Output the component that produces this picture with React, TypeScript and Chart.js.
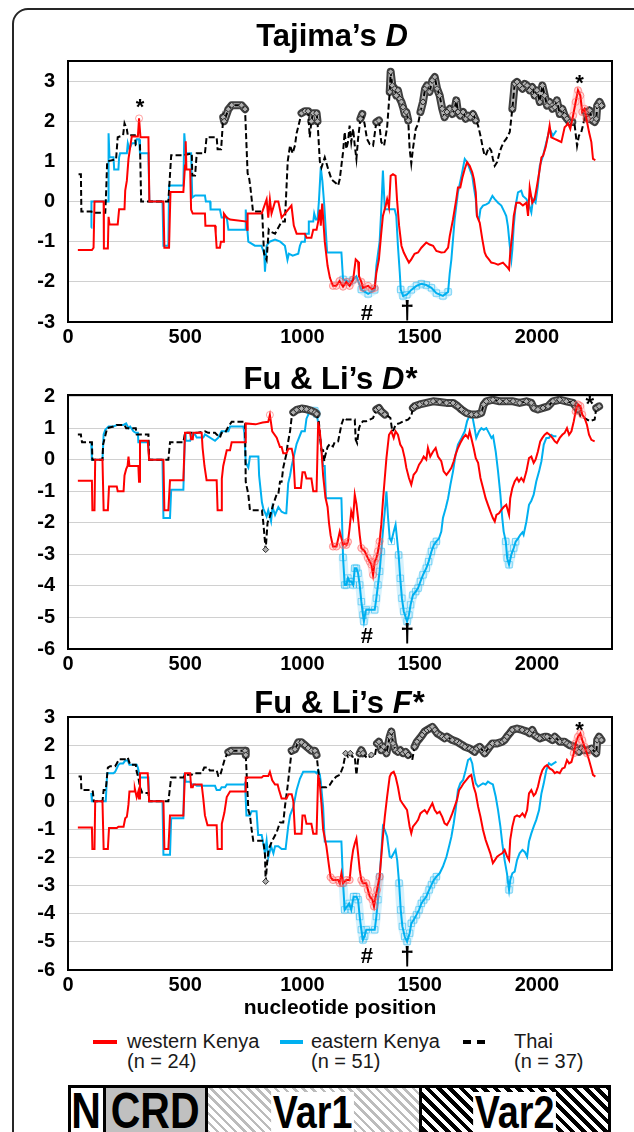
import React, { useEffect, useRef } from "react";
import { Chart, registerables } from "chart.js";

Chart.register(...registerables);

const FONT = "'Liberation Sans', Arial, Helvetica, sans-serif";

// ---------------- data ----------------
const positionTicks = [0, 500, 1000, 1500, 2000];
const tajimaTicks = [-3, -2, -1, 0, 1, 2, 3];
const fuLiDTicks = [-6, -5, -4, -3, -2, -1, 0, 1, 2];
const fuLiFTicks = [-6, -5, -4, -3, -2, -1, 0, 1, 2, 3];

const legendLabels = ["western Kenya", "eastern Kenya", "Thai"];
const sampleSizes = [24, 51, 37];
const domains = ["N", "CRD", "Var1", "Var2"];

// significance cut-offs [low, high]
const tajimaSig = [-1.9, 1.95];
const fuLiDSig = [-2.5, 1.4];
const fuLiFSig = [-2.6, 1.6];

// ----- Tajima's D -----
const tajimaWestern = [
  [42,-1.21],[102,-1.21],[109,-1.15],[113,0],[152,0],[153,-1.17],[170,-1.17],[173,-0.38],[177,-0.57],[212,-0.57],[218,-0.19],[241,-0.19],[244,0.27],[251,0.52],[258,1.06],[267,1.43],[272,1.62],[298,1.62],[303,2.07],[309,1.6],[343,1.6],[347,0],[407,0],[411,-1.15],[431,-1.15],[437,0.24],[492,0.24],[499,0.9],[502,1.5],[505,0.8],[521,0.8],[525,-0.2],[532,-0.3],[584,-0.3],[586,-0.6],[627,-0.6],[630,-0.8],[634,-1.15],[648,-1.15],[652,-1.0],[662,-1.0],[665,-0.3],[677,-0.4],[691,-0.45],[762,-0.5],[764,-0.7],[766,-0.3],[826,-0.3],[847,0.05],[854,-0.4],[861,0.05],[868,-0.3],[883,0],[897,0],[911,-0.4],[925,-0.3],[953,-0.1],[963,-0.6],[975,-0.8],[1010,-0.8],[1017,-0.9],[1038,-0.9],[1046,-0.7],[1060,-0.7],[1067,-0.5],[1074,-0.2],[1078,-0.6],[1084,-0.05],[1095,-1.0],[1107,-1.6],[1117,-1.9],[1130,-2.1],[1144,-2.1],[1158,-1.98],[1173,-2.12],[1187,-2.0],[1201,-2.1],[1216,-1.95],[1227,-1.44],[1237,-1.5],[1241,-1.86],[1251,-2.0],[1258,-2.15],[1280,-2.1],[1295,-2.18],[1308,-2.15],[1315,-1.78],[1326,-1.44],[1336,-0.78],[1343,-0.36],[1355,-0.1],[1361,0.06],[1369,-0.15],[1376,0.64],[1386,0.68],[1397,0.64],[1403,0.06],[1412,-0.6],[1422,-1.1],[1432,-1.27],[1443,-1.4],[1454,-1.52],[1464,-1.44],[1478,-1.3],[1493,-1.27],[1507,-1.15],[1528,-1.02],[1542,-1.07],[1557,-1.1],[1571,-1.23],[1592,-1.27],[1606,-1.26],[1621,-1.15],[1628,-0.86],[1642,-0.44],[1656,0.06],[1663,0.35],[1673,0.35],[1682,0.6],[1692,0.81],[1702,0.98],[1713,0.89],[1724,0.73],[1731,0.56],[1739,0.23],[1744,-0.36],[1756,-0.53],[1767,-0.94],[1777,-1.27],[1784,-1.36],[1795,-1.44],[1805,-1.52],[1820,-1.54],[1834,-1.57],[1855,-1.52],[1876,-1.65],[1881,-1.69],[1886,-1.27],[1895,-0.78],[1901,-0.36],[1912,-0.03],[1926,-0.03],[1940,-0.1],[1955,-0.03],[1962,-0.36],[1969,0.35],[1980,-0.03],[1990,0.06],[2000,0.39],[2012,0.81],[2019,1.1],[2026,1.14],[2037,1.35],[2047,1.64],[2054,1.89],[2061,1.6],[2075,1.56],[2090,1.52],[2104,1.48],[2118,1.85],[2125,1.89],[2132,1.95],[2142,1.81],[2154,2.14],[2165,2.48],[2175,2.77],[2185,2.64],[2193,2.23],[2203,2.31],[2211,2.06],[2222,1.73],[2232,1.48],[2239,1.06],[2249,1.03]
];
const tajimaEastern = [
  [99,-0.65],[100,0],[172,0],[173,1.7],[177,1.1],[194,1.1],[197,0.8],[215,0.8],[218,1.1],[222,1.2],[251,1.2],[255,1.45],[262,1.3],[272,1.45],[289,1.45],[293,1.55],[303,1.55],[307,1.2],[343,1.2],[347,0],[403,0],[407,-1.1],[428,-1.1],[431,0.4],[492,0.4],[496,1.7],[502,1.2],[525,1.2],[530,0.1],[542,0.15],[584,0.15],[588,0],[606,0],[608,-0.2],[648,-0.2],[655,-0.4],[677,-0.4],[684,-0.7],[755,-0.7],[757,-0.55],[759,-0.2],[769,-1.0],[797,-1.1],[825,-1.1],[837,-1.3],[840,-1.75],[847,-1.1],[860,-1.0],[883,-0.95],[905,-1.0],[925,-1.1],[936,-1.45],[942,-1.3],[958,-1.35],[982,-1.3],[989,-1.1],[996,-1.0],[1010,-1.0],[1013,-0.8],[1024,-0.8],[1027,-0.5],[1046,-0.5],[1050,-0.3],[1057,-0.45],[1064,-0.45],[1070,0.0],[1078,0.85],[1085,0.5],[1093,-0.1],[1105,-1.27],[1166,-1.27],[1173,-1.94],[1200,-2.0],[1215,-1.95],[1230,-1.86],[1251,-2.19],[1280,-2.3],[1308,-2.2],[1315,-1.6],[1329,-1.0],[1336,-0.2],[1343,0.77],[1351,-0.19],[1393,-0.19],[1400,-0.36],[1407,-1.1],[1415,-1.78],[1419,-2.19],[1429,-2.35],[1445,-2.32],[1464,-2.2],[1486,-2.1],[1507,-2.05],[1528,-2.08],[1550,-2.15],[1571,-2.28],[1599,-2.35],[1621,-2.25],[1628,-1.78],[1635,-1.44],[1649,-0.44],[1663,0.23],[1678,0.64],[1692,1.06],[1702,0.98],[1713,0.81],[1724,0.64],[1730,0.39],[1739,0.06],[1744,-0.36],[1753,-0.44],[1759,-0.19],[1770,-0.1],[1784,-0.07],[1795,-0.03],[1810,0.14],[1820,0.06],[1834,-0.03],[1848,-0.1],[1862,-0.27],[1869,-0.36],[1876,-0.61],[1884,-1.1],[1891,-1.44],[1895,-1.19],[1901,-0.61],[1909,-0.1],[1919,0.23],[1933,0.27],[1940,0.14],[1955,0.06],[1966,-0.07],[1976,-0.27],[1983,0.06],[1994,-0.03],[2004,0.39],[2012,0.89],[2026,1.14],[2040,1.48],[2054,1.81],[2068,1.64],[2083,1.77]
];
const tajimaThai = [
  [45,0.68],[55,0.68],[57,-0.25],[100,-0.25],[102,-0.28],[159,-0.28],[163,0.3],[167,1.0],[205,1.05],[212,1.6],[235,1.65],[241,1.95],[251,1.8],[255,1.65],[285,1.65],[289,1.4],[307,1.4],[312,0],[428,0],[440,1.15],[492,1.15],[528,1.2],[530,0.65],[542,0.65],[549,1.2],[584,1.2],[591,1.6],[634,1.6],[638,1.3],[653,1.3],[662,2.1],[666,2.0],[684,2.3],[698,2.4],[740,2.4],[755,2.3],[766,0.7],[772,0.6],[777,0.4],[789,-0.25],[828,-0.25],[836,-1.3],[847,-1.45],[856,-0.7],[863,-0.75],[883,-0.8],[911,-0.5],[925,-0.5],[937,1.0],[947,1.4],[958,1.2],[968,1.4],[975,1.7],[996,2.2],[1010,2.25],[1024,2.25],[1031,1.6],[1038,2.0],[1045,2.2],[1060,2.2],[1064,2.0],[1074,1.0],[1081,0.85],[1095,1.1],[1110,0.8],[1124,0.55],[1144,0.45],[1152,0.4],[1159,0.56],[1173,1.23],[1180,1.73],[1187,1.31],[1194,1.48],[1201,1.89],[1208,1.48],[1216,1.81],[1223,1.39],[1230,1.06],[1237,1.56],[1247,2.06],[1255,2.18],[1265,1.93],[1275,1.56],[1287,1.43],[1301,1.39],[1315,1.98],[1326,2.02],[1336,1.48],[1348,1.39],[1361,1.85],[1372,2.73],[1376,3.23],[1383,2.89],[1393,2.81],[1400,2.64],[1407,2.77],[1415,2.56],[1422,2.48],[1429,2.35],[1436,2.18],[1443,2.23],[1451,2.02],[1457,1.31],[1464,0.95],[1471,1.31],[1483,1.81],[1493,1.93],[1503,2.23],[1514,2.48],[1523,2.81],[1531,2.89],[1542,2.73],[1554,3.02],[1564,3.1],[1574,2.81],[1585,2.64],[1596,2.31],[1606,2.1],[1616,2.23],[1628,2.31],[1639,2.18],[1649,2.31],[1656,2.52],[1663,2.23],[1673,2.14],[1685,2.23],[1696,2.06],[1706,2.14],[1716,2.1],[1727,2.18],[1739,2.02],[1749,1.89],[1759,1.64],[1770,1.31],[1777,1.14],[1784,1.18],[1795,1.35],[1805,1.27],[1812,1.06],[1820,0.89],[1830,0.98],[1841,1.23],[1848,1.35],[1858,1.48],[1869,1.56],[1884,1.73],[1895,2.31],[1905,2.93],[1915,2.98],[1926,2.89],[1938,2.81],[1948,2.93],[1958,2.89],[1969,2.77],[1980,2.85],[1990,2.64],[2000,2.77],[2012,2.48],[2023,2.89],[2033,2.64],[2043,2.39],[2054,2.48],[2066,2.31],[2076,2.35],[2085,2.52],[2097,2.18],[2108,2.31],[2118,2.14],[2128,2.06],[2139,1.98],[2151,1.98],[2161,1.89],[2171,1.39],[2179,1.64],[2189,1.73],[2196,1.89],[2208,2.23],[2218,2.06],[2225,2.27],[2236,2.02],[2246,1.98],[2253,2.06],[2257,2.39],[2267,2.48],[2275,2.39]
];

// ----- Fu & Li's D* -----
const fuLiDWestern = [
  [42,-0.67],[102,-0.67],[104,-1.6],[113,-1.6],[116,0],[147,0],[152,-1.6],[170,-1.6],[175,-0.85],[208,-0.85],[212,-1.0],[237,-1.0],[241,-0.5],[248,-0.3],[254,-0.2],[258,0.1],[262,-0.2],[300,-0.2],[303,-0.7],[307,0.6],[340,0.6],[346,0],[407,0],[411,-1.6],[428,-1.6],[435,-0.65],[492,-0.65],[499,0.85],[521,0.85],[525,0.65],[532,0.65],[535,0.85],[570,0.85],[574,0.37],[582,-0.2],[591,-0.65],[634,-0.65],[638,-1.6],[653,-1.6],[656,-0.6],[662,-0.2],[677,0.3],[691,0.3],[698,0.55],[755,0.55],[758,1.15],[800,1.12],[830,1.18],[854,1.2],[861,1.42],[871,0.9],[890,0.7],[904,0.4],[911,0.4],[918,0.2],[932,0.2],[940,0.35],[954,0.35],[961,0.1],[968,-0.9],[993,-0.9],[1000,-0.4],[1010,-0.4],[1017,-0.6],[1038,-0.6],[1046,-1.0],[1060,-1.0],[1067,1.2],[1074,0.9],[1081,0.3],[1088,-0.5],[1098,-1.2],[1107,-1.5],[1113,-2.0],[1120,-2.4],[1130,-2.75],[1145,-2.75],[1159,-2.28],[1173,-2.7],[1180,-2.65],[1187,-2.7],[1194,-2.6],[1201,-2.17],[1208,-1.64],[1216,-1.85],[1223,-1.11],[1230,-1.4],[1237,-1.85],[1244,-2.38],[1251,-2.8],[1265,-2.9],[1279,-3.12],[1287,-3.23],[1294,-3.33],[1301,-3.65],[1308,-3.23],[1315,-3.12],[1322,-2.9],[1329,-2.59],[1336,-2.06],[1343,-1.32],[1351,-0.58],[1358,0.05],[1369,0.79],[1379,0.9],[1389,0.69],[1397,0.9],[1407,0.79],[1417,0.48],[1426,0.37],[1436,0.05],[1443,-0.26],[1454,-0.58],[1464,-0.79],[1474,-0.48],[1486,-0.37],[1497,-0.16],[1507,-0.05],[1517,0.1],[1528,0],[1535,0.37],[1545,0.1],[1557,0.26],[1568,0.37],[1578,0.1],[1592,-0.05],[1602,-0.37],[1614,-0.48],[1625,-0.37],[1635,-0.26],[1645,-0.05],[1653,0.16],[1663,0.37],[1673,0.53],[1685,0.69],[1696,0.79],[1706,0.69],[1713,0.9],[1720,0.69],[1730,0.37],[1739,0.05],[1749,-0.1],[1759,-0.58],[1770,-0.9],[1781,-1.22],[1791,-1.43],[1801,-1.64],[1812,-1.85],[1820,-1.96],[1827,-1.75],[1838,-1.7],[1848,-1.59],[1858,-1.5],[1869,-1.43],[1881,-1.75],[1886,-1.22],[1895,-0.9],[1905,-0.69],[1915,-0.58],[1923,-0.69],[1933,-0.58],[1943,-0.69],[1955,-0.37],[1966,0.05],[1976,0.1],[1986,-0.1],[1994,0],[2004,0.26],[2014,0.58],[2023,0.69],[2033,0.79],[2043,0.85],[2054,0.79],[2066,0.69],[2076,0.58],[2085,0.53],[2097,0.69],[2108,0.79],[2118,0.85],[2128,1.0],[2137,0.79],[2147,0.9],[2157,1.22],[2165,1.53],[2175,1.75],[2185,1.7],[2193,1.43],[2203,1.32],[2213,1.11],[2222,0.79],[2232,0.63],[2246,0.58]
];
const fuLiDEastern = [
  [99,0.56],[102,0],[147,0],[152,0.8],[159,0.95],[173,1.05],[194,1.05],[208,1.1],[237,1.1],[248,1.15],[258,1.0],[265,1.05],[279,0.9],[289,0.85],[298,0.85],[300,0.55],[343,0.55],[346,0],[403,0],[407,-1.85],[435,-1.85],[440,-0.95],[492,-0.95],[499,0.85],[502,0.6],[521,0.6],[528,0.8],[542,0.8],[549,0.7],[577,0.7],[584,0.8],[627,0.6],[641,0.7],[655,0.9],[684,0.9],[691,1.05],[748,1.05],[752,0.85],[758,-0.1],[769,-0.25],[776,0.1],[812,0.1],[815,-0.5],[827,-1.35],[833,-1.55],[847,-1.8],[854,-1.6],[866,-1.95],[872,-1.5],[883,-1.75],[897,-1.5],[911,-1.65],[925,-1.7],[931,-1.7],[939,-0.75],[947,-0.5],[954,-0.2],[975,0.5],[996,0.9],[1010,0.9],[1017,1.3],[1032,1.55],[1053,1.55],[1060,1.45],[1064,1.3],[1074,0.8],[1081,0.3],[1088,-0.2],[1095,-0.2],[1100,-1.22],[1166,-1.22],[1173,-3.1],[1180,-3.97],[1187,-3.97],[1194,-3.75],[1201,-3.86],[1208,-3.86],[1216,-3.97],[1223,-3.44],[1230,-3.44],[1237,-3.6],[1244,-3.97],[1251,-4.5],[1258,-4.92],[1262,-5.13],[1269,-4.81],[1272,-4.76],[1308,-4.76],[1315,-4.39],[1322,-3.97],[1329,-3.54],[1336,-2.91],[1343,-2.28],[1351,-1.64],[1358,-1.0],[1365,-1.85],[1372,-2.49],[1379,-2.59],[1389,-2.28],[1397,-2.06],[1403,-2.49],[1410,-3.02],[1417,-3.76],[1424,-4.39],[1432,-4.81],[1446,-5.13],[1454,-4.92],[1461,-4.6],[1471,-4.29],[1483,-4.18],[1493,-4.07],[1503,-3.86],[1514,-3.65],[1528,-3.44],[1538,-3.23],[1550,-2.91],[1560,-2.7],[1571,-2.59],[1582,-2.5],[1592,-2.28],[1599,-1.85],[1611,-1.53],[1621,-1.22],[1631,-0.79],[1642,-0.37],[1653,0.16],[1663,0.48],[1678,0.69],[1692,0.9],[1702,1.22],[1713,1.4],[1724,1.4],[1734,1.0],[1741,0.69],[1753,0.9],[1763,1.0],[1773,0.95],[1784,1.0],[1795,0.85],[1806,0.69],[1813,0.75],[1824,0.26],[1834,-0.37],[1844,-1.11],[1852,-1.85],[1858,-2.28],[1867,-2.59],[1873,-3.12],[1881,-3.33],[1891,-3.0],[1901,-2.8],[1909,-2.6],[1919,-2.5],[1929,-2.38],[1938,-2.3],[1943,-2.38],[1955,-1.96],[1966,-1.43],[1976,-1.3],[1986,-1.11],[1997,-0.69],[2009,-0.37],[2019,-0.05],[2029,0.48],[2040,0.69],[2051,0.69],[2061,0.79],[2071,0.74],[2083,0.74]
];
const fuLiDThai = [
  [42,0.8],[55,0.8],[57,0.65],[60,0.55],[102,0.55],[104,0],[147,0],[150,0.5],[152,0.55],[167,1.0],[194,1.05],[208,1.1],[241,1.1],[248,1.0],[289,1.0],[293,0.8],[343,0.8],[346,0],[428,0],[435,0.55],[492,0.55],[499,0.85],[549,0.85],[584,0.9],[598,0.85],[627,0.85],[634,0.8],[648,0.7],[655,0.85],[670,0.85],[684,1.05],[698,1.2],[755,1.2],[758,-0.7],[769,-1.1],[776,-1.6],[827,-1.6],[833,-2.0],[843,-2.85],[851,-2.0],[861,-1.8],[876,-1.4],[890,-1.1],[897,-1.1],[904,-0.7],[911,-0.7],[918,-0.25],[932,0.2],[936,0.45],[947,0.9],[954,1.35],[961,1.5],[975,1.58],[996,1.62],[1017,1.6],[1038,1.55],[1053,1.5],[1060,1.45],[1070,1.2],[1074,0.8],[1081,0.3],[1088,0.3],[1093,-0.05],[1096,0.1],[1107,0.4],[1117,0.5],[1130,0.42],[1137,0.55],[1152,0.58],[1166,1.11],[1176,1.32],[1187,1.27],[1208,1.27],[1223,1.27],[1227,0.63],[1233,0.53],[1241,1.0],[1247,1.11],[1258,1.22],[1272,1.22],[1287,1.27],[1301,1.32],[1315,1.59],[1326,1.64],[1336,1.53],[1351,1.43],[1365,1.38],[1375,1.32],[1383,0.9],[1389,0.95],[1397,1.11],[1415,1.16],[1432,1.22],[1450,1.27],[1464,1.38],[1471,1.64],[1478,1.69],[1500,1.75],[1528,1.8],[1557,1.85],[1585,1.83],[1614,1.8],[1642,1.8],[1663,1.69],[1678,1.59],[1699,1.48],[1720,1.43],[1741,1.43],[1763,1.48],[1773,1.75],[1784,1.85],[1812,1.9],[1841,1.85],[1869,1.85],[1898,1.85],[1926,1.8],[1955,1.85],[1976,1.8],[1986,1.64],[2004,1.59],[2026,1.64],[2047,1.69],[2068,1.85],[2097,1.9],[2125,1.85],[2154,1.8],[2175,1.59],[2185,1.38],[2203,1.32],[2225,1.22],[2246,1.27],[2253,1.64],[2265,1.69]
];

// ----- Fu & Li's F* -----
const fuLiFWestern = [
  [42,-0.93],[102,-0.93],[104,-1.7],[113,-1.7],[116,0],[147,0],[152,-1.7],[170,-1.7],[175,-0.95],[208,-0.95],[215,-0.9],[237,-0.9],[244,-0.6],[251,-0.55],[255,-0.3],[258,-0.1],[262,0.35],[282,0.35],[285,0.45],[293,0.15],[300,0.35],[303,0.1],[307,1.0],[340,1.0],[346,0],[407,0],[411,-1.7],[428,-1.7],[435,-0.5],[492,-0.5],[499,1.0],[521,1.0],[525,0.5],[532,0.5],[535,0.6],[570,0.6],[577,0.1],[584,-0.5],[595,-0.85],[634,-0.85],[638,-1.7],[653,-1.7],[656,-0.8],[667,-0.4],[677,0.15],[691,0.35],[755,0.35],[758,0.85],[826,0.85],[833,0.9],[854,0.9],[861,1.05],[871,0.75],[883,0.6],[894,0.6],[900,0.4],[911,0.1],[932,0.1],[940,0.25],[954,0.25],[961,0],[968,-1.15],[996,-1.15],[1000,-0.5],[1010,-0.5],[1017,-0.8],[1038,-0.8],[1046,-1.15],[1060,-1.15],[1067,0.95],[1074,0.6],[1081,-0.1],[1088,-1.0],[1102,-1.6],[1113,-2.3],[1120,-2.7],[1130,-2.8],[1152,-2.8],[1159,-2.91],[1166,-2.56],[1173,-2.91],[1187,-2.8],[1201,-2.8],[1208,-2.2],[1216,-1.73],[1223,-1.5],[1230,-1.32],[1237,-1.85],[1244,-2.44],[1251,-2.8],[1258,-2.91],[1272,-2.91],[1279,-3.15],[1287,-3.39],[1298,-3.5],[1305,-3.74],[1312,-3.39],[1318,-3.15],[1329,-2.68],[1336,-1.97],[1343,-1.26],[1351,-0.55],[1361,0.17],[1372,0.88],[1379,1.0],[1389,1.05],[1397,0.88],[1407,0.52],[1417,0.05],[1426,-0.07],[1436,-0.19],[1446,-0.31],[1457,-0.9],[1464,-1.14],[1471,-0.9],[1483,-0.78],[1493,-0.66],[1503,-0.43],[1511,-0.37],[1521,-0.31],[1531,-0.43],[1542,-0.25],[1554,-0.07],[1564,-0.31],[1574,-0.43],[1585,-0.37],[1596,-0.55],[1606,-0.78],[1616,-0.84],[1628,-0.66],[1639,-0.43],[1649,-0.19],[1659,0.05],[1668,0.4],[1678,0.52],[1687,0.64],[1699,0.76],[1710,0.88],[1720,0.94],[1730,0.52],[1739,0.28],[1749,-0.19],[1759,-0.55],[1770,-1.02],[1781,-1.37],[1791,-1.61],[1801,-1.85],[1812,-2.2],[1820,-2.1],[1830,-1.97],[1841,-1.9],[1852,-1.85],[1862,-1.73],[1872,-1.95],[1881,-2.09],[1886,-1.37],[1895,-0.9],[1905,-0.55],[1915,-0.5],[1926,-0.55],[1938,-0.43],[1948,-0.55],[1958,-0.31],[1966,0.28],[1976,0.4],[1986,0.2],[1994,0.28],[2004,0.52],[2014,0.88],[2023,1.11],[2033,1.23],[2043,1.29],[2054,1.17],[2066,1.11],[2076,1.0],[2085,1.05],[2097,1.0],[2108,1.17],[2118,1.2],[2128,1.47],[2137,1.35],[2147,1.4],[2157,1.71],[2165,2.06],[2175,2.3],[2185,2.42],[2193,2.18],[2203,1.94],[2213,1.71],[2222,1.47],[2232,1.17],[2239,0.94],[2249,0.88]
];
const fuLiFEastern = [
  [99,0.3],[102,0],[161,0],[167,1.0],[194,1.0],[201,1.05],[215,1.3],[222,1.35],[235,1.35],[244,1.45],[255,1.45],[262,1.3],[293,1.3],[298,1.2],[307,0.85],[343,0.85],[346,0],[403,0],[407,-1.9],[435,-1.9],[440,-0.6],[492,-0.6],[496,1.0],[502,0.7],[521,0.7],[528,0.6],[542,0.6],[549,0.55],[627,0.55],[634,0.4],[648,0.4],[655,0.5],[670,0.5],[677,0.6],[752,0.6],[755,0.65],[761,-0.5],[776,-0.5],[783,-0.35],[804,-0.35],[811,-1.2],[826,-1.2],[833,-1.5],[840,-1.85],[847,-1.4],[854,-2.0],[866,-1.6],[876,-1.85],[883,-1.6],[897,-1.6],[911,-1.7],[928,-1.7],[939,-0.9],[947,-0.5],[961,-0.2],[975,0.4],[989,0.8],[1003,1.05],[1053,1.05],[1060,1.0],[1067,1.1],[1074,0.95],[1078,0.7],[1088,-0.2],[1095,-1.43],[1166,-1.43],[1173,-2.91],[1180,-3.86],[1190,-3.74],[1199,-3.63],[1208,-3.86],[1218,-3.39],[1230,-3.39],[1237,-3.5],[1244,-4.1],[1251,-4.57],[1258,-4.93],[1265,-4.8],[1272,-4.57],[1308,-4.57],[1315,-4.1],[1322,-3.5],[1329,-2.68],[1336,-1.85],[1343,-0.9],[1351,-1.02],[1361,-1.26],[1372,-1.97],[1379,-2.0],[1389,-1.85],[1397,-1.73],[1404,-2.1],[1412,-2.91],[1419,-3.86],[1426,-4.45],[1436,-4.81],[1446,-4.99],[1457,-4.69],[1464,-4.34],[1474,-4.22],[1486,-4.04],[1497,-3.86],[1507,-3.63],[1517,-3.51],[1528,-3.39],[1540,-3.15],[1550,-2.97],[1560,-2.8],[1571,-2.68],[1585,-2.56],[1599,-2.32],[1614,-1.97],[1625,-1.61],[1635,-1.26],[1645,-0.78],[1653,-0.31],[1663,0.4],[1673,0.64],[1685,0.76],[1696,1.11],[1706,1.47],[1716,1.53],[1724,1.35],[1730,1.0],[1739,0.64],[1749,0.52],[1759,0.58],[1770,0.64],[1781,0.6],[1791,0.7],[1801,0.65],[1812,0.6],[1824,0.17],[1834,-0.31],[1844,-0.9],[1852,-1.49],[1862,-2.09],[1872,-2.56],[1881,-3.15],[1886,-2.8],[1895,-2.56],[1905,-2.5],[1915,-2.09],[1926,-1.85],[1938,-1.73],[1948,-1.8],[1958,-1.97],[1966,-1.43],[1976,-1.14],[1986,-0.9],[1997,-0.66],[2009,-0.31],[2019,0.28],[2029,0.64],[2040,1.11],[2051,1.35],[2061,1.29],[2071,1.35],[2083,1.41]
];
const fuLiFThai = [
  [45,0.88],[55,0.88],[57,0.4],[102,0.4],[106,0.35],[110,0],[147,0],[152,0.4],[161,0.4],[170,1.2],[180,1.25],[201,1.25],[208,1.35],[218,1.5],[251,1.5],[255,1.55],[265,1.3],[289,1.3],[293,1.05],[300,0.85],[307,0.5],[317,0.3],[343,0.3],[346,0],[428,0],[440,0.85],[492,0.85],[499,0.95],[528,0.95],[535,1.0],[570,1.0],[581,1.2],[598,1.2],[605,1.1],[634,1.1],[641,0.9],[648,0.9],[655,1.1],[670,1.55],[684,1.75],[695,1.8],[755,1.8],[758,1.65],[769,-0.3],[776,-0.5],[783,-1.0],[790,-1.4],[833,-1.4],[840,-1.9],[843,-2.85],[851,-2.0],[856,-1.7],[871,-1.4],[890,-1.1],[904,-0.75],[918,-0.75],[925,-0.2],[936,0.5],[947,1.3],[954,1.8],[968,1.85],[982,2.1],[996,2.1],[1010,2.0],[1024,1.9],[1038,1.8],[1053,1.8],[1060,1.65],[1074,0.6],[1081,0.5],[1102,0.5],[1116,0.58],[1130,0.76],[1144,0.88],[1159,0.94],[1173,1.23],[1184,1.71],[1194,1.59],[1204,1.71],[1213,1.59],[1223,1.59],[1230,0.94],[1237,1.47],[1244,1.71],[1251,1.82],[1258,1.71],[1269,1.59],[1279,1.53],[1294,1.65],[1308,1.59],[1318,2.06],[1326,2.12],[1336,1.82],[1346,1.94],[1358,1.71],[1372,2.3],[1379,2.48],[1386,2.06],[1397,1.82],[1407,1.76],[1417,1.82],[1429,1.71],[1440,1.76],[1450,1.65],[1460,1.59],[1468,1.47],[1478,1.94],[1488,2.12],[1500,2.24],[1511,2.36],[1521,2.48],[1531,2.54],[1542,2.59],[1554,2.65],[1564,2.54],[1574,2.42],[1585,2.36],[1596,2.3],[1606,2.24],[1616,2.3],[1639,2.18],[1659,2.12],[1670,2.06],[1682,2.0],[1692,1.94],[1713,1.88],[1724,1.82],[1734,1.76],[1744,1.88],[1756,1.94],[1777,1.71],[1798,1.94],[1810,2.06],[1830,2.06],[1852,2.12],[1862,2.18],[1872,2.3],[1884,2.42],[1895,2.54],[1915,2.59],[1937,2.54],[1958,2.48],[1969,2.42],[1980,2.54],[1990,2.36],[2000,2.3],[2012,2.24],[2033,2.3],[2043,2.3],[2066,2.18],[2076,2.3],[2097,2.12],[2118,2.12],[2128,2.06],[2139,2.0],[2161,1.94],[2171,1.82],[2179,1.76],[2189,1.88],[2199,1.82],[2218,1.82],[2232,1.88],[2253,1.71],[2257,2.18],[2265,2.3],[2275,2.18]
];

// significance notes (x in nucleotide position, y in statistic units)
const tajimaNotes = [
  { x: 307, y: 2.33, t: "*" }, { x: 2182, y: 2.94, t: "*" },
  { x: 1275, y: -2.79, t: "#" }, { x: 1447, y: -2.76, t: "†" },
];
const fuLiDNotes = [
  { x: 2225, y: 1.72, t: "*" },
  { x: 1275, y: -5.61, t: "#" }, { x: 1447, y: -5.56, t: "†" },
];
const fuLiFNotes = [
  { x: 2182, y: 2.5, t: "*" },
  { x: 1275, y: -5.52, t: "#" }, { x: 1447, y: -5.58, t: "†" },
];

// ---------------- chart helpers ----------------
const toXY = (a: number[][]) => a.map(([x, y]) => ({ x, y }));

const decorPlugin = {
  id: "decor",
  afterDraw(chart: any, _args: any, opts: any) {
    const { ctx, chartArea: a, scales } = chart;
    ctx.save();
    ctx.strokeStyle = "#000";
    ctx.lineWidth = 2;
    ctx.setLineDash([]);
    ctx.strokeRect(a.left, a.top, a.right - a.left, a.bottom - a.top);
    const parts = opts.title || [];
    const fonts = parts.map((p: any) => `${p.italic ? "italic " : ""}bold 31px ${FONT}`);
    let total = 0;
    const widths = parts.map((p: any, i: number) => {
      ctx.font = fonts[i];
      const w = ctx.measureText(p.text).width;
      total += w;
      return w;
    });
    let x = opts.titleX - total / 2;
    ctx.fillStyle = "#000";
    ctx.textBaseline = "alphabetic";
    ctx.textAlign = "left";
    parts.forEach((p: any, i: number) => {
      ctx.font = fonts[i];
      ctx.fillText(p.text, x, opts.titleY);
      x += widths[i];
    });
    ctx.textAlign = "center";
    ctx.textBaseline = "middle";
    (opts.notes || []).forEach((n: any) => {
      const px = scales.x.getPixelForValue(n.x);
      const py = scales.y.getPixelForValue(n.y);
      ctx.font = `bold ${n.t === "†" ? 25 : 22}px ${FONT}`;
      ctx.fillText(n.t, px, py);
    });
    ctx.restore();
  },
};

type PanelProps = {
  top: number;
  height: number;
  padTop: number;
  xHeight: number;
  yMin: number;
  yMax: number;
  yTicks: number[];
  sig: number[];
  west: number[][];
  east: number[][];
  thai: number[][];
  title: { text: string; italic?: boolean }[];
  titleX: number;
  titleY: number;
  notes: { x: number; y: number; t: string }[];
  xTitle?: string;
};

function ChartPanel(p: PanelProps) {
  const ref = useRef<HTMLCanvasElement | null>(null);
  useEffect(() => {
    const canvas = ref.current;
    if (!canvas) return;
    const [lo, hi] = p.sig;
    const sigV = (v: number) => v > hi || v < lo;
    const isSig = (c: any) => (c.raw ? sigV(c.raw.y) : false);
    const segSig = (c: any) => sigV(c.p0.parsed.y) && sigV(c.p1.parsed.y);
    const band = (data: number[][], color: string, width: number, order: number) => ({
      data: toXY(data),
      borderColor: "rgba(0,0,0,0)",
      borderWidth: width,
      borderJoinStyle: "round",
      borderCapStyle: "round",
      pointRadius: 0,
      tension: 0,
      order,
      segment: {
        borderColor: (c: any) => (segSig(c) ? color : "rgba(0,0,0,0)"),
      },
    });
    const tickFont = { family: FONT, size: 20, weight: "bold" as const };
    const chart = new Chart(canvas, {
      type: "line",
      data: {
        datasets: [
          {
            label: legendLabels[0],
            data: toXY(p.west),
            borderColor: "#ff0000",
            borderWidth: 2,
            tension: 0,
            order: 0,
            pointStyle: "circle",
            pointRadius: (c: any) => (isSig(c) ? 3.5 : 0),
            pointBorderColor: "rgba(255,90,90,0.55)",
            pointBackgroundColor: "rgba(255,255,255,0)",
            pointBorderWidth: 1,
          },
          band(p.west, "rgba(255,120,120,0.28)", 8, 1),
          {
            label: legendLabels[2],
            data: toXY(p.thai),
            borderColor: "#000000",
            borderWidth: 2,
            borderDash: [6, 3],
            tension: 0,
            order: 2,
            pointStyle: "rectRot",
            pointRadius: (c: any) => (isSig(c) ? 3 : 0),
            pointBorderColor: "#2a2a2a",
            pointBackgroundColor: "#b0b0b0",
            pointBorderWidth: 1,
          },
          band(p.thai, "#b4b4b4", 4, 3),
          band(p.thai, "#404040", 8, 4),
          {
            label: legendLabels[1],
            data: toXY(p.east),
            borderColor: "#00b0f0",
            borderWidth: 2,
            tension: 0,
            order: 5,
            pointStyle: "rect",
            pointRadius: (c: any) => (isSig(c) ? 4.5 : 0),
            pointBorderColor: "rgba(0,176,240,0.45)",
            pointBackgroundColor: "rgba(255,255,255,0)",
            pointBorderWidth: 1,
          },
          band(p.east, "rgba(90,200,245,0.25)", 9, 6),
        ],
      } as any,
      options: {
        animation: false,
        responsive: false,
        events: [],
        layout: { padding: { left: 0, right: 22, top: p.padTop, bottom: 0 } },
        plugins: {
          legend: { display: false },
          tooltip: { enabled: false },
          title: { display: false },
          decor: { title: p.title, titleX: p.titleX, titleY: p.titleY, notes: p.notes },
        } as any,
        scales: {
          x: {
            type: "linear",
            min: 0,
            max: 2320,
            afterBuildTicks: (s: any) => {
              s.ticks = positionTicks.map((v) => ({ value: v }));
            },
            afterFit: (s: any) => {
              s.height = p.xHeight;
            },
            grid: { display: false, drawTicks: false },
            border: { display: false },
            ticks: {
              color: "#000",
              font: tickFont,
              padding: 3,
              maxRotation: 0,
              autoSkip: false,
              callback: (v: any) => String(v),
            },
            title: p.xTitle
              ? {
                  display: true,
                  text: p.xTitle,
                  color: "#000",
                  font: { family: FONT, size: 21, weight: "bold" },
                  padding: { top: 0, bottom: 0 },
                }
              : { display: false },
          },
          y: {
            type: "linear",
            min: p.yMin,
            max: p.yMax,
            afterBuildTicks: (s: any) => {
              s.ticks = p.yTicks.map((v) => ({ value: v }));
            },
            afterFit: (s: any) => {
              s.width = 68;
            },
            grid: { color: "#d0d0d0", lineWidth: 1, drawTicks: false },
            border: { display: false },
            ticks: {
              color: "#000",
              font: tickFont,
              padding: 13,
              callback: (v: any) => String(v),
            },
          },
        } as any,
      },
      plugins: [decorPlugin as any],
    });
    return () => chart.destroy();
  }, []);
  return (
    <canvas
      ref={ref}
      width={634}
      height={p.height}
      style={{ position: "absolute", left: 0, top: p.top, width: 634, height: p.height }}
    />
  );
}

const legendText: React.CSSProperties = {
  position: "absolute",
  font: `20px ${FONT}`,
  lineHeight: "20px",
  color: "#1a1a1a",
  whiteSpace: "nowrap",
};

export default function App() {
  const stripes1 =
    "repeating-linear-gradient(45deg, #ffffff 0px, #ffffff 4px, #bcbcbc 4px, #bcbcbc 6.5px)";
  const stripes2 =
    "repeating-linear-gradient(45deg, #ffffff 0px, #ffffff 4px, #000000 4px, #000000 8px)";
  const cell = (left: number, width: number, bg: string): React.CSSProperties => ({
    position: "absolute",
    left,
    top: 1086,
    width,
    height: 60,
    background: bg,
    display: "flex",
    justifyContent: "center",
    alignItems: "flex-start",
  });
  const domainText = (size: number, lh: number, mt: number, boxed: boolean): React.CSSProperties => ({
    display: "block",
    font: `bold ${size}px ${FONT}`,
    lineHeight: `${lh}px`,
    marginTop: mt,
    transform: "scaleX(0.82)",
    color: "#000",
    background: boxed ? "#fff" : "transparent",
    padding: boxed ? "0 2px" : 0,
    whiteSpace: "nowrap",
  });
  return (
    <div
      style={{
        position: "absolute",
        left: 0,
        top: 0,
        width: 634,
        height: 1132,
        overflow: "hidden",
        background: "#ffffff",
      }}
    >
      <div
        style={{
          position: "absolute",
          left: 12,
          top: 8,
          width: 720,
          height: 1220,
          border: "2px solid #262626",
          borderRadius: 16,
          boxSizing: "border-box",
        }}
      />
      <ChartPanel
        top={0}
        height={360}
        padTop={61}
        xHeight={38}
        yMin={-3}
        yMax={3.5}
        yTicks={tajimaTicks}
        sig={tajimaSig}
        west={tajimaWestern}
        east={tajimaEastern}
        thai={tajimaThai}
        title={[{ text: "Tajima’s " }, { text: "D", italic: true }]}
        titleX={332}
        titleY={46}
        notes={tajimaNotes}
      />
      <ChartPanel
        top={350}
        height={335}
        padTop={45}
        xHeight={36}
        yMin={-6}
        yMax={2.05}
        yTicks={fuLiDTicks}
        sig={fuLiDSig}
        west={fuLiDWestern}
        east={fuLiDEastern}
        thai={fuLiDThai}
        title={[{ text: "Fu & Li’s " }, { text: "D*", italic: true }]}
        titleX={330}
        titleY={39}
        notes={fuLiDNotes}
      />
      <ChartPanel
        top={675}
        height={346}
        padTop={42}
        xHeight={51}
        yMin={-6}
        yMax={3}
        yTicks={fuLiFTicks}
        sig={fuLiFSig}
        west={fuLiFWestern}
        east={fuLiFEastern}
        thai={fuLiFThai}
        title={[{ text: "Fu & Li’s " }, { text: "F*", italic: true }]}
        titleX={339}
        titleY={38}
        notes={fuLiFNotes}
        xTitle="nucleotide position"
      />

      {/* legend */}
      <div style={{ position: "absolute", left: 93, top: 1040, width: 24, height: 4, background: "#ff0000" }} />
      <div style={{ ...legendText, left: 127, top: 1031 }}>{legendLabels[0]}</div>
      <div style={{ ...legendText, left: 127, top: 1051 }}>{`(n = ${sampleSizes[0]})`}</div>
      <div style={{ position: "absolute", left: 280, top: 1040, width: 23, height: 4, background: "#00b0f0" }} />
      <div style={{ ...legendText, left: 311, top: 1031 }}>{legendLabels[1]}</div>
      <div style={{ ...legendText, left: 311, top: 1051 }}>{`(n = ${sampleSizes[1]})`}</div>
      <div style={{ position: "absolute", left: 463, top: 1040, width: 8, height: 4, background: "#000" }} />
      <div style={{ position: "absolute", left: 477, top: 1040, width: 8, height: 4, background: "#000" }} />
      <div style={{ ...legendText, left: 514, top: 1031 }}>{legendLabels[2]}</div>
      <div style={{ ...legendText, left: 514, top: 1051 }}>{`(n = ${sampleSizes[2]})`}</div>

      {/* domain bar */}
      <div style={cell(69, 35, "#ffffff")}>
        <span style={domainText(50, 50, 0, false)}>{domains[0]}</span>
      </div>
      <div style={cell(104, 102, "#c0c0c0")}>
        <span style={domainText(50, 50, 0, false)}>{domains[1]}</span>
      </div>
      <div style={cell(206, 214, stripes1)}>
        <span style={domainText(46, 40, 6, true)}>{domains[2]}</span>
      </div>
      <div style={cell(420, 190, stripes2)}>
        <span style={domainText(46, 40, 6, true)}>{domains[3]}</span>
      </div>
      <div style={{ position: "absolute", left: 102.5, top: 1086, width: 3, height: 60, background: "#000" }} />
      <div style={{ position: "absolute", left: 204.5, top: 1086, width: 3, height: 60, background: "#000" }} />
      <div style={{ position: "absolute", left: 418.5, top: 1086, width: 3, height: 60, background: "#000" }} />
      <div
        style={{
          position: "absolute",
          left: 68,
          top: 1084.5,
          width: 543,
          height: 80,
          border: "3px solid #000",
          boxSizing: "border-box",
        }}
      />
    </div>
  );
}
